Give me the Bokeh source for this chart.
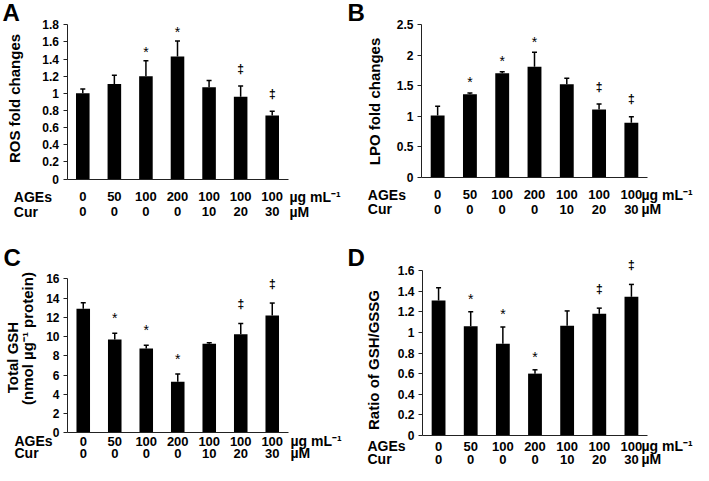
import math
from bokeh.plotting import figure
from bokeh.models import (Range1d, SingleIntervalTicker, NumeralTickFormatter, FixedTicker,
                          LinearAxis, Label, Whisker, TeeHead, ColumnDataSource)
from bokeh.layouts import column, row
from bokeh.embed import file_html
from bokeh.resources import INLINE
from bokeh.core.properties import value

# ---------------- data ----------------
AGES = ["0", "50", "100", "200", "100", "100", "100"]   # µg/mL
CUR = ["0", "0", "0", "0", "10", "20", "30"]            # µM

ROS = [1.00, 1.11, 1.20, 1.43, 1.07, 0.96, 0.74]
ROS_ERR = [0.05, 0.10, 0.18, 0.18, 0.08, 0.125, 0.05]
ROS_MARK = ["", "", "*", "*", "", "‡", "‡"]

LPO = [1.01, 1.36, 1.70, 1.81, 1.52, 1.11, 0.89]
LPO_ERR = [0.15, 0.02, 0.025, 0.235, 0.10, 0.087, 0.10]
LPO_MARK = ["", "*", "*", "*", "", "‡", "‡"]

GSH = [12.9, 9.7, 8.75, 5.3, 9.25, 10.25, 12.2]
GSH_ERR = [0.6, 0.65, 0.35, 0.8, 0.1, 1.1, 1.28]
GSH_MARK = ["", "*", "*", "*", "", "‡", "‡"]

RATIO = [1.31, 1.06, 0.89, 0.60, 1.065, 1.18, 1.345]
RATIO_ERR = [0.123, 0.139, 0.162, 0.037, 0.143, 0.055, 0.12]
RATIO_MARK = ["", "*", "*", "*", "", "‡", "‡"]

# category positions on a linear scale (one unit per group)
NCAT = len(AGES)
XPOS = [i + 0.5 for i in range(NCAT)]

# ---------------- layout ----------------
FONT = "Liberation Sans"
COL_X0 = [0, 346]
COL_W = [346, 363]
ROW_Y0 = [0, 240]
ROW_H = [240, 241]
LABEL_C = 4.5   # px from label top (standoff end) to text centre


def make_panel(col, rw, vals, errs, marks, ymax, ystep, ytitles, letter, geom,
               rows_ref, text_left, units_left, star_off, dag_off):
    W, H = COL_W[col], ROW_H[rw]
    X = lambda rx: rx - COL_X0[col]
    Y = lambda ry: ry - ROW_Y0[rw]
    ax_l, ax_r, y_top, y_zero = geom
    fl, fr, fz, ft = X(ax_l), X(ax_r), Y(y_zero), Y(y_top)
    ppu = (fz - ft) / ymax
    catw = (fr - fl) / NCAT
    dx = lambda px: (px - fl) / catw
    dy = lambda py: (fz - py) / ppu

    # the frame covers the whole canvas; axes sit at fixed data locations
    p = figure(width=W, height=H,
               x_range=Range1d(dx(0), dx(W)), y_range=Range1d(dy(H), dy(0)),
               output_backend="svg", toolbar_location=None,
               min_border_left=0, min_border_right=0,
               min_border_top=0, min_border_bottom=0,
               outline_line_color=None, background_fill_color="white",
               border_fill_color="white", x_axis_type=None, y_axis_type=None)
    p.xgrid.visible = False
    p.ygrid.visible = False

    src = ColumnDataSource(dict(x=XPOS, top=vals,
                                up=[v + e for v, e in zip(vals, errs)]))
    p.vbar(x="x", top="top", width=0.43, source=src,
           fill_color="black", line_color=None)
    p.add_layout(Whisker(source=src, base="x", lower="top", upper="up",
                         dimension="height", line_color="black", line_width=1.5,
                         upper_head=TeeHead(size=5, line_color="black", line_width=1.5),
                         lower_head=None))

    # significance marks
    for sym, off, size, style in (("*", star_off, "14px", "normal"),
                                  ("‡", dag_off, "12px", "bold")):
        xs = [x for x, m in zip(XPOS, marks) if m == sym]
        ys = [v + e for v, e, m in zip(vals, errs, marks) if m == sym]
        if xs:
            p.text(x=xs, y=ys, text=[sym] * len(xs), text_align="center",
                   text_baseline="middle", y_offset=-off + (4 if sym == "*" else 0),
                   text_font=value(FONT), text_font_size=size,
                   text_font_style=style, text_color="black")

    # y axis at x = 0
    ya = LinearAxis(fixed_location=0, bounds=(0, ymax),
                    ticker=SingleIntervalTicker(interval=ystep, num_minor_ticks=0),
                    formatter=NumeralTickFormatter(format="0.[0]"))
    p.add_layout(ya, "left")
    ya.axis_line_color = "#222222"
    ya.major_tick_line_color = "#222222"
    ya.major_tick_out = 4
    ya.major_tick_in = 0
    ya.minor_tick_line_color = None
    ya.major_label_standoff = 4
    ya.major_label_text_font = FONT
    ya.major_label_text_font_style = "bold"
    ya.major_label_text_font_size = "12px"
    ya.major_label_text_color = "black"

    # x axes: AGEs row (on the baseline) and Cur row (invisible line below it)
    r1, r2 = rows_ref
    s1 = round(r1 - y_zero - LABEL_C)
    xa = LinearAxis(fixed_location=0, bounds=(0, NCAT),
                    ticker=FixedTicker(ticks=XPOS, minor_ticks=[]),
                    major_label_overrides=dict(zip(XPOS, AGES)))
    xa2 = LinearAxis(fixed_location=dy(fz + (r2 - r1)), bounds=(0, NCAT),
                     ticker=FixedTicker(ticks=XPOS, minor_ticks=[]),
                     major_label_overrides=dict(zip(XPOS, CUR)))
    p.add_layout(xa, "below")
    p.add_layout(xa2, "below")
    for a in (xa, xa2):
        a.major_tick_line_color = None
        a.minor_tick_line_color = None
        a.major_tick_out = 0
        a.major_tick_in = 0
        a.minor_tick_out = 0
        a.major_label_standoff = s1
        a.major_label_text_font = FONT
        a.major_label_text_font_style = "bold"
        a.major_label_text_font_size = "13px"
        a.major_label_text_color = "black"
    xa.axis_line_color = "#222222"
    xa2.axis_line_color = None

    def lab(text, rx, ry, size, align="left", baseline="middle", angle=0.0):
        p.add_layout(Label(x=dx(X(rx)), y=dy(Y(ry)), text=text,
                           text_font=FONT, text_font_style="bold",
                           text_font_size=size, text_align=align,
                           text_baseline=baseline, angle=angle, text_color="black"))

    # panel letter (centre of the capital)
    lt, lx, ly = letter
    lab(lt, lx, ly, "24px")
    # y titles
    for t, tx, ty in ytitles:
        lab(t, tx, ty, "15px", align="center", angle=math.pi / 2)
    # row labels and units (centres of the rows)
    lab("AGEs", text_left, r1, "14px")
    lab("Cur", text_left, r2, "14px")
    lab("µg mL⁻¹", units_left, r1, "14px")
    lab("µM", units_left, r2, "14px")
    return p


pA = make_panel(0, 0, ROS, ROS_ERR, ROS_MARK, 1.8, 0.2,
                [("ROS fold changes", 14, 98)], ("A", 2, 11.7),
                (66.5, 287.5, 24.3, 178.5), (196, 211), 13.3, 289, 12.6, 17)
pB = make_panel(1, 0, LPO, LPO_ERR, LPO_MARK, 2.5, 0.5,
                [("LPO fold changes", 374, 101)], ("B", 347, 11.7),
                (421, 647, 24, 176.7), (194, 208.3), 367.3, 641, 14.5, 17.5)
pC = make_panel(0, 1, GSH, GSH_ERR, GSH_MARK, 16, 2,
                [("Total GSH", 12, 357), ("(nmol µg⁻¹ protein)", 27, 338)],
                ("C", 3, 256.5),
                (67, 287.5, 278.3, 432.3), (440.7, 452.5), 14, 290, 19, 19.5)
pD = make_panel(1, 1, RATIO, RATIO_ERR, RATIO_MARK, 1.6, 0.2,
                [("Ratio of GSH/GSSG", 373, 359.5)], ("D", 347, 256.5),
                (422, 647, 270, 435), (445, 458), 367, 641, 17, 19.6)

layout = column(row(pA, pB), row(pC, pD))
open("out.html", "w").write(file_html(layout, INLINE))
